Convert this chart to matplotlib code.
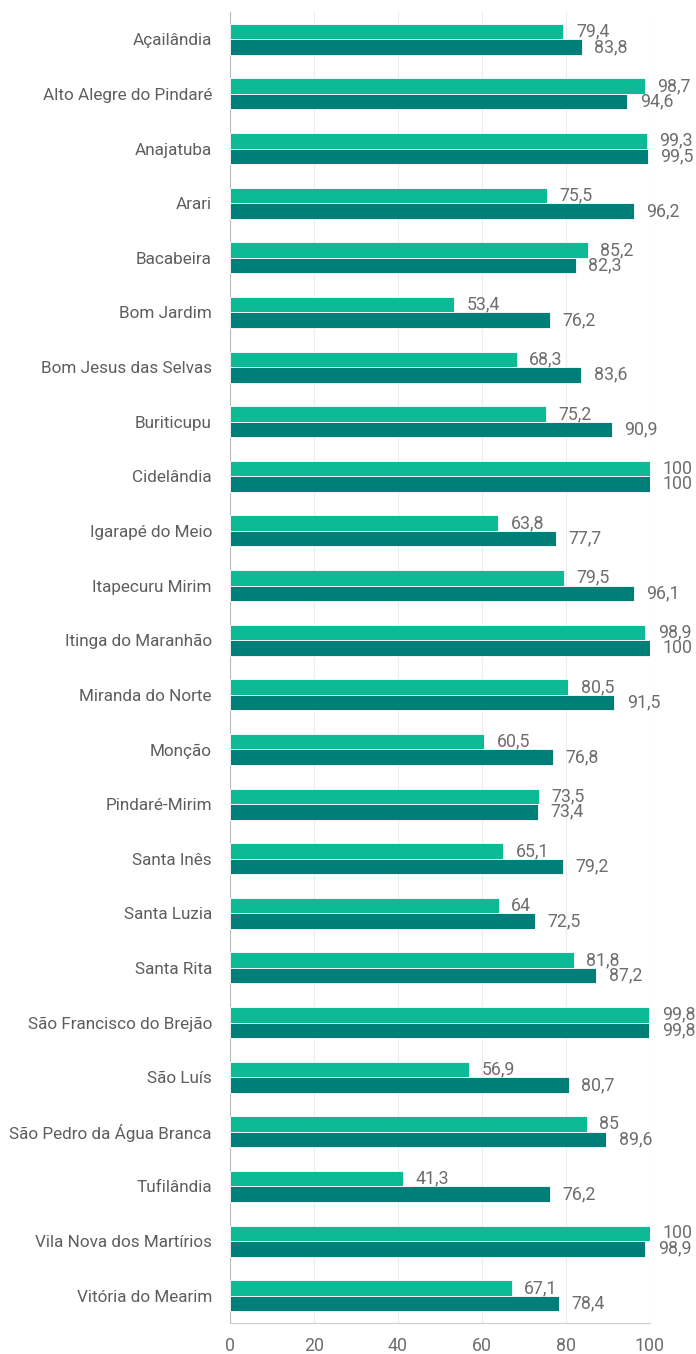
import matplotlib
matplotlib.use('Agg')
import matplotlib.pyplot as plt
import numpy as np
from matplotlib import font_manager

names = ['Açailândia', 'Alto Alegre do Pindaré', 'Anajatuba', 'Arari', 'Bacabeira',
         'Bom Jardim', 'Bom Jesus das Selvas', 'Buriticupu', 'Cidelândia',
         'Igarapé do Meio', 'Itapecuru Mirim', 'Itinga do Maranhão', 'Miranda do Norte',
         'Monção', 'Pindaré-Mirim', 'Santa Inês', 'Santa Luzia', 'Santa Rita',
         'São Francisco do Brejão', 'São Luís', 'São Pedro da Água Branca',
         'Tufilândia', 'Vila Nova dos Martírios', 'Vitória do Mearim']
serie_a = [79.4, 98.7, 99.3, 75.5, 85.2, 53.4, 68.3, 75.2, 100, 63.8, 79.5, 98.9,
           80.5, 60.5, 73.5, 65.1, 64, 81.8, 99.8, 56.9, 85, 41.3, 100, 67.1]
serie_b = [83.8, 94.6, 99.5, 96.2, 82.3, 76.2, 83.6, 90.9, 100, 77.7, 96.1, 100,
           91.5, 76.8, 73.4, 79.2, 72.5, 87.2, 99.8, 80.7, 89.6, 76.2, 98.9, 78.4]
x_ticks = [0, 20, 40, 60, 80, 100]

available = {f.name for f in font_manager.fontManager.ttflist}
for fam in ['Roboto', 'Open Sans', 'DejaVu Sans']:
    if fam in available:
        plt.rcParams['font.family'] = [fam, 'DejaVu Sans']
        break

def fmt(v):
    s = f'{v:g}'
    return s.replace('.', ',')

light = '#0cba96'
dark = '#007f78'
txt = '#6e6e6e'

fig = plt.figure(figsize=(6.96, 13.54), dpi=100)
ax = fig.add_axes([230/696, 1 - 1323/1354, 420/696, (1323 - 12)/1354])

y = np.arange(len(names))
h = 0.284
ax.barh(y - h/2, serie_a, height=h, color=light, edgecolor='white', linewidth=0.6, zorder=3)
ax.barh(y + h/2, serie_b, height=h, color=dark, edgecolor='white', linewidth=0.6, zorder=3)

for i, (a, b) in enumerate(zip(serie_a, serie_b)):
    ax.annotate(fmt(a), (a, i - h/2), xytext=(9, 0), textcoords='offset points',
                va='center', ha='left', fontsize=12.8, color=txt)
    ax.annotate(fmt(b), (b, i + h/2), xytext=(9, 0), textcoords='offset points',
                va='center', ha='left', fontsize=12.8, color=txt)

ax.set_ylim(len(names) - 0.5, -0.5)
ax.set_xlim(0, 100)
ax.set_yticks(y)
ax.set_yticklabels(names, fontsize=12.3, color='#5e5e5e')
ax.set_xticks(x_ticks)
ax.set_xticklabels([str(t) for t in x_ticks], fontsize=12.8, color=txt)
ax.tick_params(axis='both', length=0)
ax.tick_params(axis='y', pad=13)
ax.tick_params(axis='x', pad=10)
ax.grid(axis='x', color='#ececec', linewidth=0.8, zorder=0)
for s in ['top', 'right']:
    ax.spines[s].set_visible(False)
ax.spines['left'].set_color('#bbbbbb')
ax.spines['bottom'].set_color('#cccccc')

fig.savefig('out.png', dpi=100)
